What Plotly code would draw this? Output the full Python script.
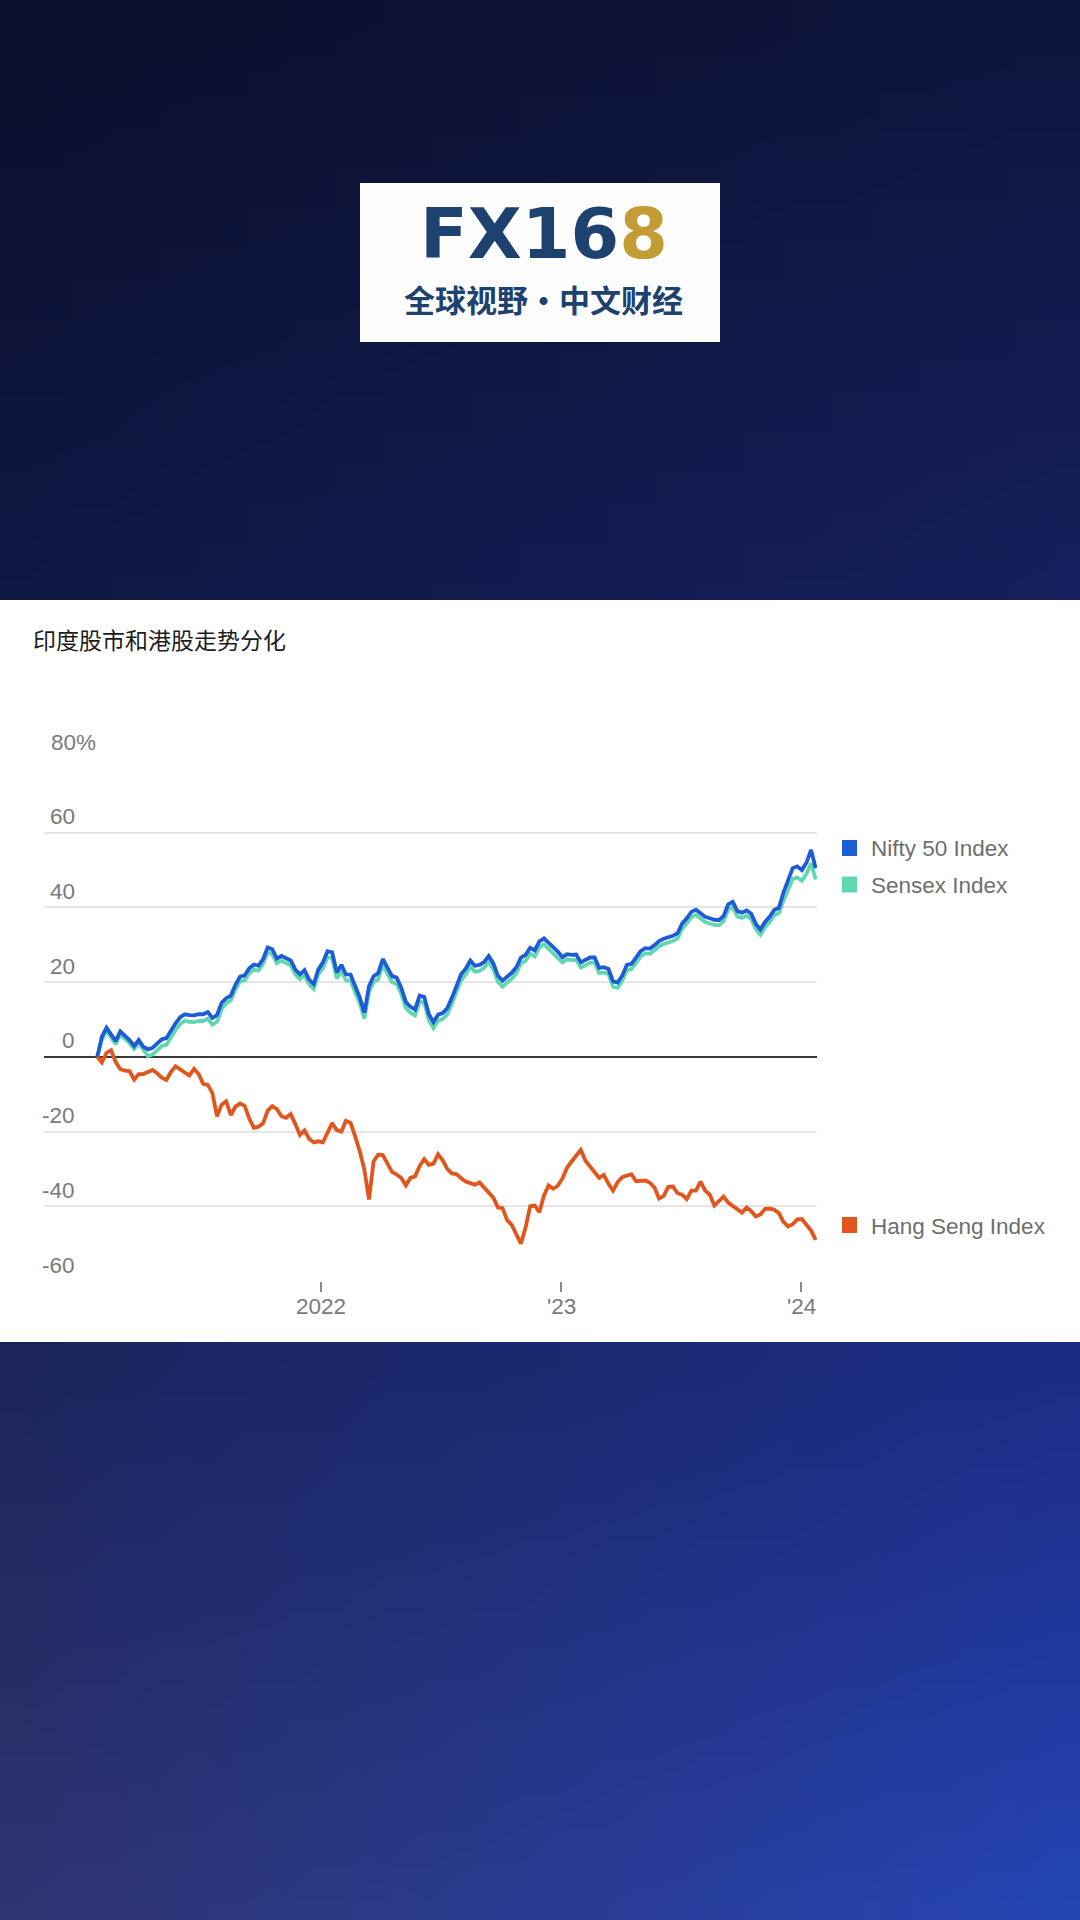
import base64
import struct
import zlib

import pandas as pd
import plotly.graph_objects as go

# ---------------- data ----------------
TITLE = "印度股市和港股走势分化"
SERIES_NAMES = ["Nifty 50 Index", "Sensex Index", "Hang Seng Index"]
SERIES_COLORS = ["#1e5bd7", "#5fd7b1", "#e1561c"]
START_DATE = "2021-01-26"          # first weekly observation (cumulative % change = 0)

nifty = [0, 5.4, 7.8, 6.2, 4.2, 6.8, 5.6, 4.5, 2.9, 4.5, 2.7, 2.0, 2.4, 3.6, 4.7, 5.0,
         7.2, 9.0, 10.6, 11.4, 11.2, 11.1, 11.4, 11.4, 12.0, 10.4, 11.2, 14.5, 15.7, 16.4,
         19.3, 21.5, 21.8, 23.7, 24.7, 24.4, 26.2, 29.3, 28.8, 26.3, 27.0, 26.5, 25.8, 23.4,
         22.1, 23.2, 20.7, 19.5, 23.4,
         25.3, 28.3, 28.0, 22.6, 24.6, 22.1, 22.0, 18.8, 15.9, 11.8, 18.9, 21.6, 22.4, 26.2,
         23.9, 21.6, 21.2, 18.5, 14.7, 13.4, 12.7, 16.4, 16.0, 11.4, 9.3, 11.3, 11.7, 13.0,
         15.8, 18.7, 22.1, 23.6, 25.8, 24.4, 24.6, 25.4, 27.0, 25.0, 21.7, 20.4, 21.3, 22.5,
         24.0, 26.6, 27.3, 29.2, 28.5, 30.9, 31.7, 30.5, 29.5, 28.2,
         26.7, 27.5, 27.3, 27.4, 25.3, 25.9, 26.6, 26.6, 23.8, 24.0, 23.5, 20.2, 19.9, 21.8,
         24.6, 24.9, 26.6, 28.3, 29.1, 29.0, 29.9, 31.0, 31.6, 32.0, 32.4, 33.1, 35.7, 37.1,
         38.8, 39.4, 38.6, 37.5, 37.1, 36.7, 36.6, 37.7, 40.8, 41.5, 39.0, 38.6, 39.2, 38.3,
         35.6, 34.1, 36.1, 37.5, 39.3, 39.9, 44.0, 47.6, 50.5, 51.0, 50.0, 52.0, 55.4, 50.5]

sensex = [0, 4.6, 7.0, 5.4, 3.4, 6.0, 4.8, 3.7, 2.1, 3.7, 1.9,
          0.2, 0.6, 1.8, 2.9, 3.2, 5.4, 7.2, 8.8, 9.6, 9.4, 9.3, 9.6, 9.6, 10.2, 8.6, 9.4, 12.7,
          14.4, 15.1, 18.0, 20.2, 20.5, 22.4, 23.4, 23.1, 24.9, 28.0, 27.5, 25.0, 25.7, 25.2,
          24.5, 22.1, 20.8, 21.9, 19.4, 18.2, 22.1,
          23.7, 26.7, 26.4, 21.0, 23.0, 20.5, 20.4, 17.2, 14.3, 10.2, 17.3, 20.0, 20.8, 24.6,
          22.3, 20.0, 19.6, 16.9, 13.1, 11.8, 11.1, 14.8, 14.4, 9.8, 7.7, 9.7, 10.1, 11.4,
          14.2, 17.1, 20.5, 22.0, 24.2, 22.8, 23.0, 23.8, 25.4, 23.4, 20.1, 18.8, 19.7, 20.9,
          22.4, 25.0, 25.7, 27.6, 26.9, 29.3, 30.1, 28.9, 27.9, 26.6,
          25.3, 26.1, 25.9, 26.0, 23.9, 24.5, 25.2, 25.2, 22.4, 22.6, 22.1, 18.8, 18.5, 20.4,
          23.2, 23.5, 25.2, 26.9, 27.7, 27.6, 28.5, 29.6, 30.2, 30.6, 31.0, 31.7, 34.3, 35.7,
          37.4, 38.0, 37.2, 36.1, 35.7, 35.3, 35.2, 36.3, 39.4, 40.1, 37.6, 37.2, 37.8, 36.9,
          34.2, 32.7, 34.7, 36.1, 37.9, 38.5, 41.8, 45.0, 47.6, 48.0, 47.2, 49.0, 51.8, 47.5]

hang_seng = [0, -1.5, 1.1, 1.8, -1.4, -3.3, -3.7, -3.8, -6.1, -4.6, -4.6, -4.0, -3.5, -4.4,
             -5.6, -6.2, -4.0, -2.5, -3.3, -4.3, -5.0, -3.2, -4.6, -7.2, -7.5, -9.7, -15.9,
             -12.8, -11.9, -15.6, -13.3, -12.5, -13.1, -16.5, -19.0, -18.7, -17.8, -14.4,
             -13.2, -14.0, -15.9, -16.3, -15.3, -18.0, -20.9, -19.7, -21.9, -22.9, -22.6,
             -22.9, -20.0, -17.7, -19.6, -20.0, -17.1, -17.7, -21.3, -25.3, -30.2, -38.2,
             -28.0, -26.2, -26.3, -28.4, -30.8, -31.5, -32.4, -34.4, -32.4, -32.0, -29.2,
             -27.4, -28.9, -28.6, -26.1, -27.7, -30.0, -31.2, -31.4, -32.5, -33.4, -33.8,
             -34.2, -33.6, -35.0, -36.2, -37.7, -40.3, -40.5, -43.7, -45.0, -47.5, -50.0,
             -45.7, -40.0, -39.8, -41.6, -37.1, -34.4, -35.3, -34.5,
             -32.6, -29.7, -28.0, -26.3, -24.9, -27.8, -29.3, -30.7, -32.4, -31.6, -34.0,
             -35.8, -33.5, -32.2, -31.8, -31.4, -33.3, -33.2, -33.1, -33.7, -35.0, -37.9,
             -37.2, -34.8, -34.7, -36.5, -36.9, -38.1, -35.8, -35.8, -33.4, -35.8, -36.9,
             -39.8, -38.6, -37.4, -39.0, -39.9, -40.9, -41.7, -40.3, -41.3, -42.7, -42.2,
             -40.7, -40.6, -40.9, -41.8, -44.2, -45.4, -44.8, -43.5, -43.4, -45.0, -46.5, -49.0]

Y_TICKS = [-60, -40, -20, 0, 20, 40, 60, 80]
X_TICK_DATES = ["2022-01-01", "2023-01-01", "2024-01-01"]
X_TICK_TEXT = ["2022", "'23", "'24"]
X_RANGE = ["2020-11-06", "2024-01-25"]

LOGO_MAIN = "FX16"
LOGO_ACCENT = "8"
LOGO_SUBTITLE = "全球视野·中文财经"

# ---------------- helpers ----------------
W, H = 1080, 1920


def px(x):
    return x / W


def py(y):
    return 1 - y / H


def lerp(a, b, t):
    return a + (b - a) * t


def gradient_png(w, h, tl, tr, bl, br):
    rows = []
    for j in range(h):
        v = j / (h - 1)
        row = bytearray(b"\x00")
        for i in range(w):
            u = i / (w - 1)
            for c in range(3):
                top = lerp(tl[c], tr[c], u)
                bot = lerp(bl[c], br[c], u)
                row.append(int(round(lerp(top, bot, v))))
        rows.append(bytes(row))
    raw = b"".join(rows)

    def chunk(tag, data):
        out = struct.pack(">I", len(data)) + tag + data
        return out + struct.pack(">I", zlib.crc32(tag + data) & 0xFFFFFFFF)

    png = (b"\x89PNG\r\n\x1a\n"
           + chunk(b"IHDR", struct.pack(">IIBBBBB", w, h, 8, 2, 0, 0, 0))
           + chunk(b"IDAT", zlib.compress(raw, 9))
           + chunk(b"IEND", b""))
    return "data:image/png;base64," + base64.b64encode(png).decode()


dates = pd.date_range(START_DATE, periods=len(nifty), freq="7D")

TEXT_FONT = "Liberation Sans, Arial, sans-serif"
CJK_FONT = "Noto Sans CJK SC"

fig = go.Figure()
for name, vals, col in [(SERIES_NAMES[1], sensex, SERIES_COLORS[1]),
                        (SERIES_NAMES[0], nifty, SERIES_COLORS[0]),
                        (SERIES_NAMES[2], hang_seng, SERIES_COLORS[2])]:
    fig.add_trace(go.Scatter(x=dates, y=vals, mode="lines", name=name,
                             line=dict(color=col, width=3.8), showlegend=False))

annotations = []
shapes = []

# title
annotations.append(dict(text=TITLE, x=px(31), y=py(639), xref="paper", yref="paper",
                        xanchor="left", yanchor="middle", showarrow=False,
                        font=dict(family=CJK_FONT, size=23, color="#1c1c1c")))

# y tick labels (above gridlines)
for v in Y_TICKS:
    if v == max(Y_TICKS):
        annotations.append(dict(text=f"{v}%", x=px(49), xanchor="left", y=v, yref="y",
                                xref="paper", yanchor="middle", yshift=16, showarrow=False,
                                font=dict(family=TEXT_FONT, size=22.5, color="#7a7a7a")))
    else:
        annotations.append(dict(text=str(v), x=px(77), xanchor="right", y=v, yref="y",
                                xref="paper", yanchor="middle", yshift=16, showarrow=False,
                                font=dict(family=TEXT_FONT, size=22.5, color="#7a7a7a")))

# x tick labels
for d, t in zip(X_TICK_DATES, X_TICK_TEXT):
    annotations.append(dict(text=t, x=d, xref="x", y=py(1306), yref="paper",
                            xanchor="center", yanchor="middle", showarrow=False,
                            font=dict(family=TEXT_FONT, size=22.5, color="#7a7a7a")))

# legend (squares + labels)
legend_rows = [(SERIES_NAMES[0], SERIES_COLORS[0], 848),
               (SERIES_NAMES[1], SERIES_COLORS[1], 884.5),
               (SERIES_NAMES[2], SERIES_COLORS[2], 1225)]
for name, col, yc in legend_rows:
    shapes.append(dict(type="rect", xref="paper", yref="paper",
                       x0=px(842), x1=px(857), y0=py(yc + 8), y1=py(yc - 8),
                       fillcolor=col, line=dict(width=0)))
    annotations.append(dict(text=name, x=px(869), y=py(yc + 1), xref="paper", yref="paper",
                            xanchor="left", yanchor="middle", showarrow=False,
                            font=dict(family=TEXT_FONT, size=22.5, color="#6e6e6e")))

# logo
shapes.append(dict(type="rect", xref="paper", yref="paper", layer="below",
                   x0=px(360), x1=px(720), y0=py(342), y1=py(183),
                   fillcolor="#fdfdfd", line=dict(width=0)))
annotations.append(dict(
    text=f"<b>{LOGO_MAIN}<span style='color:#c49c36'>{LOGO_ACCENT}</span></b>",
    x=px(544), y=py(234), xref="paper", yref="paper", xanchor="center", yanchor="middle",
    showarrow=False, font=dict(family="DejaVu Sans", size=70, color="#1d426f")))
annotations.append(dict(text=f"<b>{LOGO_SUBTITLE}</b>", x=px(543), y=py(298), xref="paper",
                        yref="paper", xanchor="center", yanchor="middle", showarrow=False,
                        font=dict(family=CJK_FONT, size=31, color="#1d426f")))

# background gradients (top & bottom of the white panel)
top_img = gradient_png(24, 16, (10, 16, 44), (14, 21, 60), (15, 23, 66), (21, 32, 92))
bot_img = gradient_png(24, 16, (27, 37, 92), (27, 44, 132), (46, 52, 112), (36, 68, 180))
images = [
    dict(source=top_img, xref="paper", yref="paper", x=0, y=1, sizex=1, sizey=600 / H,
         xanchor="left", yanchor="top", sizing="stretch", layer="below"),
    dict(source=bot_img, xref="paper", yref="paper", x=0, y=py(1342), sizex=1,
         sizey=(H - 1342) / H, xanchor="left", yanchor="top", sizing="stretch",
         layer="below"),
]

fig.update_layout(
    width=W, height=H,
    margin=dict(l=0, r=0, t=0, b=0, pad=0),
    paper_bgcolor="#ffffff",
    plot_bgcolor="rgba(0,0,0,0)",
    showlegend=False,
    annotations=annotations,
    shapes=shapes,
    images=images,
    xaxis=dict(domain=[px(44), px(817)], type="date", range=X_RANGE,
               tickvals=X_TICK_DATES, ticktext=X_TICK_TEXT, showticklabels=False,
               showgrid=False, zeroline=False, showline=False, ticks="outside",
               ticklen=10, tickwidth=1.5, tickcolor="#8a8a8a"),
    yaxis=dict(domain=[py(1281), py(758)], range=[-60, 80], tickvals=Y_TICKS,
               showticklabels=False, showgrid=True, gridcolor="#e6e6e6", gridwidth=1.5,
               zeroline=True, zerolinecolor="#3a3a3a", zerolinewidth=2, showline=False,
               ticks=""),
)

fig.write_html("out.html", config={"displayModeBar": False},
               post_script="document.body.style.margin='0';document.body.style.overflow='hidden';")
